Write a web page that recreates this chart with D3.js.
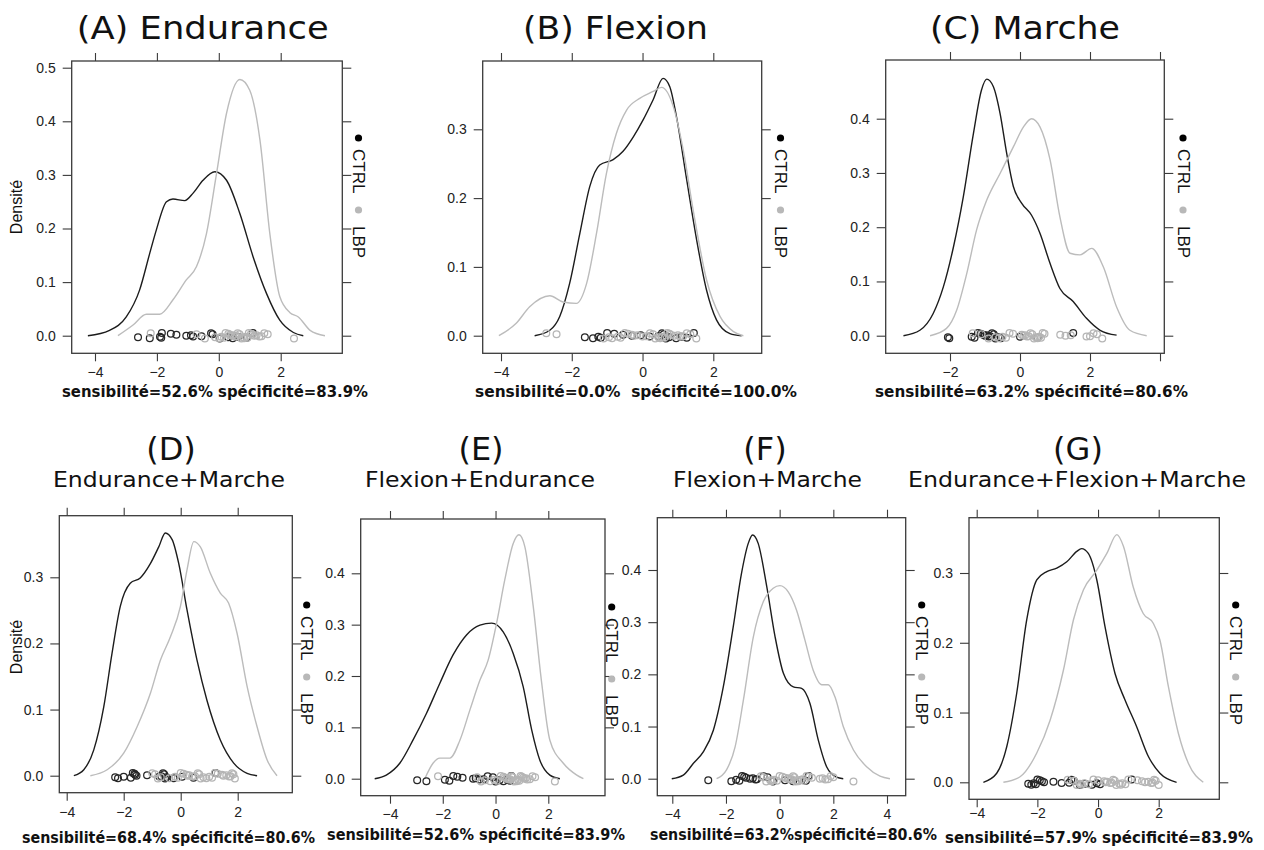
<!DOCTYPE html>
<html><head><meta charset="utf-8">
<script src="https://cdn.jsdelivr.net/npm/d3@7"></script>
<style>body{margin:0;background:#fff}svg{display:block}</style>
</head><body><svg id="c" width="1264" height="850"></svg>
<script>
// ---------- DATA ----------
const groups = ["CTRL", "LBP"];
const panelIds = ["A","B","C","D","E","F","G"];
const panelLetters = ["(A)","(B)","(C)","(D)","(E)","(F)","(G)"];
const panelNames = ["Endurance","Flexion","Marche","Endurance+Marche","Flexion+Endurance","Flexion+Marche","Endurance+Flexion+Marche"];
const sensibilite = ["52.6%","0.0%","63.2%","68.4%","52.6%","63.2%","57.9%"];
const specificite = ["83.9%","100.0%","80.6%","80.6%","83.9%","80.6%","83.9%"];
const yAxisLabel = "Densité";

const xTicksA = [-4,-2,0,2], xTicksB = [-4,-2,0,2], xTicksC = [-2,0,2,4], xTicksD = [-4,-2,0,2],
      xTicksE = [-4,-2,0,2], xTicksF = [-4,-2,0,2,4], xTicksG = [-4,-2,0,2];
const xLabelsC = [-2,0,2];
const yTicksA = [0,0.1,0.2,0.3,0.4,0.5], yTicksB = [0,0.1,0.2,0.3], yTicksC = [0,0.1,0.2,0.3,0.4],
      yTicksD = [0,0.1,0.2,0.3], yTicksE = [0,0.1,0.2,0.3,0.4], yTicksF = [0,0.1,0.2,0.3,0.4], yTicksG = [0,0.1,0.2,0.3];

// density curves [x, density]
const densCtrlA = [[-4.23,0],[-3.53,0.01],[-2.99,0.035],[-2.56,0.085],[-2.23,0.154],[-2.02,0.197],[-1.69,0.25],[-1.48,0.255],[-1.10,0.252],[-0.83,0.266],[-0.51,0.29],[-0.13,0.306],[0.25,0.29],[0.68,0.228],[1.11,0.147],[1.54,0.079],[1.97,0.029],[2.41,0.006],[2.73,0]];
const densLbpA = [[-3.26,0],[-2.77,0.02],[-2.34,0.04],[-1.91,0.04],[-1.48,0.067],[-1.05,0.104],[-0.72,0.129],[-0.40,0.19],[-0.08,0.30],[0.25,0.415],[0.68,0.478],[1.0,0.458],[1.33,0.365],[1.65,0.19],[1.97,0.073],[2.30,0.043],[2.57,0.035],[2.95,0.01],[3.43,0]];
const densCtrlB = [[-3.05,0],[-2.62,0.008],[-2.34,0.028],[-2.06,0.076],[-1.77,0.149],[-1.49,0.217],[-1.21,0.248],[-0.83,0.256],[-0.55,0.268],[-0.26,0.289],[0.02,0.314],[0.30,0.343],[0.58,0.374],[0.77,0.362],[0.96,0.318],[1.25,0.226],[1.53,0.139],[1.81,0.066],[2.09,0.023],[2.47,0.003],[2.80,0]];
const densLbpB = [[-4.06,0],[-3.57,0.018],[-3.19,0.042],[-2.62,0.058],[-2.25,0.049],[-1.87,0.047],[-1.58,0.076],[-1.30,0.149],[-1.02,0.236],[-0.74,0.294],[-0.45,0.328],[-0.08,0.345],[0.30,0.355],[0.54,0.361],[0.87,0.333],[1.15,0.27],[1.43,0.183],[1.81,0.081],[2.19,0.028],[2.57,0.006],[2.85,0]];
const densCtrlC = [[-3.33,0],[-2.86,0.010],[-2.48,0.041],[-2.19,0.09],[-1.90,0.164],[-1.62,0.256],[-1.33,0.373],[-1.10,0.453],[-0.95,0.473],[-0.76,0.459],[-0.57,0.41],[-0.38,0.336],[-0.19,0.275],[0.05,0.244],[0.33,0.222],[0.57,0.189],[0.86,0.133],[1.14,0.087],[1.52,0.063],[1.90,0.032],[2.29,0.010],[2.76,0.001]];
const densLbpC = [[-2.57,0],[-2.10,0.0135],[-1.81,0.047],[-1.52,0.115],[-1.24,0.195],[-0.95,0.25],[-0.57,0.299],[-0.19,0.348],[0.10,0.385],[0.33,0.40],[0.57,0.385],[0.86,0.324],[1.14,0.219],[1.43,0.152],[1.71,0.149],[2.05,0.161],[2.38,0.127],[2.76,0.053],[3.14,0.010],[3.62,0]];
const densCtrlD = [[-3.75,0],[-3.40,0.009],[-3.05,0.039],[-2.70,0.104],[-2.41,0.185],[-2.12,0.256],[-1.77,0.291],[-1.42,0.299],[-1.06,0.321],[-0.77,0.346],[-0.54,0.367],[-0.30,0.357],[-0.07,0.321],[0.22,0.251],[0.57,0.175],[0.92,0.114],[1.39,0.054],[1.86,0.019],[2.33,0.0035],[2.68,0]];
const densLbpD = [[-3.17,0],[-2.58,0.009],[-2.0,0.034],[-1.53,0.074],[-1.06,0.125],[-0.71,0.175],[-0.36,0.21],[-0.01,0.256],[0.22,0.311],[0.46,0.354],[0.69,0.346],[1.04,0.306],[1.39,0.276],[1.68,0.261],[1.98,0.215],[2.33,0.135],[2.68,0.074],[3.03,0.024],[3.38,0]];
const densCtrlE = [[-4.58,0],[-4.14,0.007],[-3.63,0.030],[-3.13,0.075],[-2.62,0.127],[-2.11,0.186],[-1.61,0.241],[-1.10,0.28],[-0.59,0.299],[-0.15,0.303],[0.29,0.286],[0.67,0.244],[1.05,0.179],[1.37,0.095],[1.68,0.036],[2.06,0.007],[2.44,0]];
const densLbpE = [[-2.68,0],[-2.37,0.030],[-2.11,0.040],[-1.73,0.040],[-1.35,0.075],[-0.97,0.134],[-0.59,0.192],[-0.28,0.231],[0.04,0.303],[0.35,0.387],[0.67,0.458],[0.89,0.475],[1.11,0.452],[1.43,0.335],[1.75,0.186],[2.06,0.075],[2.57,0.030],[3.08,0.007],[3.33,0]];
const densCtrlF = [[-4.02,0],[-3.59,0.007],[-3.22,0.029],[-2.84,0.052],[-2.47,0.093],[-2.10,0.176],[-1.73,0.291],[-1.42,0.394],[-1.17,0.451],[-1.01,0.467],[-0.80,0.451],[-0.48,0.368],[-0.17,0.272],[0.14,0.202],[0.51,0.176],[0.82,0.173],[1.13,0.144],[1.44,0.074],[1.75,0.023],[2.12,0.003],[2.37,0]];
const densLbpF = [[-2.35,0],[-1.98,0.017],[-1.66,0.061],[-1.35,0.151],[-0.98,0.272],[-0.61,0.339],[-0.24,0.365],[0.01,0.37],[0.32,0.358],[0.63,0.323],[0.94,0.266],[1.25,0.208],[1.57,0.18],[1.81,0.18],[2.06,0.157],[2.37,0.10],[2.75,0.055],[3.24,0.023],[3.74,0.005],[4.11,0]];
const densCtrlG = [[-3.78,0],[-3.34,0.013],[-3.01,0.051],[-2.68,0.128],[-2.35,0.233],[-2.02,0.29],[-1.69,0.302],[-1.36,0.307],[-1.03,0.316],[-0.70,0.331],[-0.54,0.335],[-0.32,0.328],[-0.04,0.29],[0.23,0.223],[0.56,0.156],[0.89,0.118],[1.27,0.08],[1.66,0.037],[2.04,0.013],[2.59,0]];
const densLbpG = [[-3.12,0],[-2.57,0.008],[-2.02,0.042],[-1.58,0.089],[-1.14,0.161],[-0.81,0.233],[-0.48,0.276],[-0.04,0.304],[0.29,0.328],[0.62,0.355],[0.84,0.338],[1.16,0.28],[1.49,0.242],[1.82,0.228],[2.04,0.204],[2.32,0.137],[2.65,0.070],[2.98,0.027],[3.47,0]];

// individual observations (rug points)
const obsCtrlA = [-2.61,-2.23,-1.9,-1.86,-1.84,-1.55,-1.37,-1.05,-0.9,-0.83,-0.56,-0.25,-0.2,0.03,0.3,0.45,0.62,0.9,1.1];
const obsLbpA = [-2.2,-0.72,-0.45,-0.12,0.02,0.08,0.17,0.22,0.31,0.36,0.42,0.47,0.53,0.58,0.61,0.67,0.73,0.78,0.82,0.88,0.93,0.97,1.04,1.08,1.15,1.22,1.31,1.38,1.47,1.58,2.43];
const obsCtrlB = [-1.63,-1.4,-1.25,-1.18,-1.0,-0.8,-0.55,-0.3,-0.05,0.2,0.45,0.55,0.6,0.66,0.75,0.95,1.1,1.25,1.45];
const obsLbpB = [-2.72,-2.43,-1.1,-0.95,-0.86,-0.7,-0.62,-0.5,-0.41,-0.3,-0.24,-0.15,0.0,0.1,0.21,0.3,0.36,0.45,0.5,0.56,0.62,0.7,0.76,0.8,0.9,1.0,1.06,1.15,1.25,1.35,1.52];
const obsCtrlC = [-2.06,-2.02,-1.38,-1.3,-1.2,-1.12,-1.05,-1.0,-0.95,-0.9,-0.85,-0.8,-0.75,-0.7,-0.62,-0.55,0.0,0.5,1.52];
const obsLbpC = [-1.35,-1.1,-0.9,-0.7,-0.6,-0.5,-0.4,-0.3,-0.2,0.05,0.1,0.15,0.2,0.25,0.3,0.35,0.4,0.45,0.5,0.55,0.6,0.65,0.7,1.15,1.3,1.45,1.9,2.0,2.1,2.2,2.35];
const obsCtrlD = [-2.3,-2.2,-2.0,-1.75,-1.68,-1.62,-1.6,-1.55,-1.18,-0.75,-0.68,-0.62,-0.58,-0.55,-0.5,-0.25,0.05,0.45,1.22];
const obsLbpD = [-1.0,-0.9,-0.8,-0.7,-0.4,-0.2,-0.1,0.0,0.1,0.2,0.25,0.3,0.4,0.5,0.6,0.65,0.7,0.8,0.9,1.0,1.1,1.2,1.3,1.45,1.5,1.6,1.7,1.75,1.8,1.85,1.9];
const obsCtrlE = [-2.97,-2.62,-1.92,-1.75,-1.6,-1.45,-1.25,-0.85,-0.75,-0.6,-0.45,-0.3,-0.1,0.0,0.15,0.3,0.45,0.55,0.6];
const obsLbpE = [-2.18,-0.7,-0.55,-0.4,-0.2,-0.05,0.05,0.2,0.3,0.35,0.4,0.45,0.5,0.55,0.6,0.65,0.7,0.75,0.8,0.85,0.9,0.95,1.0,1.05,1.1,1.15,1.2,1.3,1.4,1.5,2.25];
const obsCtrlF = [-2.66,-1.8,-1.62,-1.5,-1.4,-1.32,-1.25,-1.1,-1.0,-0.9,-0.85,-0.6,-0.45,-0.25,0.2,0.5,0.82,0.98,1.08];
const obsLbpF = [-0.7,-0.6,-0.5,-0.35,-0.3,-0.2,-0.1,0.0,0.1,0.2,0.3,0.35,0.4,0.45,0.5,0.55,0.6,0.65,0.7,0.8,0.9,1.0,1.1,1.2,1.5,1.6,1.7,1.8,1.9,2.0,2.75];
const obsCtrlG = [-2.3,-2.2,-2.12,-2.05,-2.0,-1.92,-1.85,-1.78,-1.47,-1.2,-0.95,-0.88,-0.8,-0.6,-0.43,-0.2,-0.04,0.07,1.11];
const obsLbpG = [-1.0,-0.8,-0.7,-0.6,-0.55,-0.45,-0.3,-0.15,0.0,0.2,0.25,0.3,0.4,0.45,0.5,0.55,0.6,0.7,0.75,0.8,0.9,1.0,1.3,1.45,1.55,1.65,1.75,1.8,1.85,1.9,2.0];

// ---------- LAYOUT (pixels) ----------
const layout = {
  A:{box:[71.7,342.3,61,353.3], xr:[95,280.7], xd:[-4,2], yr:[335.7,67.7], yd:[0,0.5], xt:xTicksA, yt:yTicksA, dc:densCtrlA, dl:densLbpA, oc:obsCtrlA, ol:obsLbpA, leg:[358.5,138], ylab:[16,207],
     title:{x:76.7,w:252,y:39}, foot:{x:62,w:306,y:397}, xpad:6},
  B:{box:[482.7,761.7,61,353.3], xr:[501,713.3], xd:[-4,2], yr:[335.7,129.3], yd:[0,0.3], xt:xTicksB, yt:yTicksB, dc:densCtrlB, dl:densLbpB, oc:obsCtrlB, ol:obsLbpB, leg:[780.5,138],
     title:{x:523,w:185,y:39}, foot:{x:475,w:322,y:397}, twoSpace:true, xpad:6},
  C:{box:[885.7,1164.3,60,353.3], xr:[950,1090], xd:[-2,2], yr:[335.7,118.7], yd:[0,0.4], xt:xTicksC, xl:xLabelsC, yt:yTicksC, dc:densCtrlC, dl:densLbpC, oc:obsCtrlC, ol:obsLbpC, leg:[1183,138],
     title:{x:930,w:190,y:39}, foot:{x:875,w:313,y:397}, xpad:6},
  D:{box:[59.3,292.3,515.7,792.7], xr:[66.7,237.7], xd:[-4,2], yr:[775.7,577.3], yd:[0,0.3], xt:xTicksD, yt:yTicksD, dc:densCtrlD, dl:densLbpD, oc:obsCtrlD, ol:obsLbpD, leg:[306.7,605], ylab:[16,647],
     letter:{cx:171,y:460}, sub:{x:53,w:232,y:487}, foot:{x:22,w:293,y:843}, xpad:6},
  E:{box:[360.7,605,519,795.7], xr:[390,548.3], xd:[-4,2], yr:[778.7,573.3], yd:[0,0.4], xt:xTicksE, yt:yTicksE, dc:densCtrlE, dl:densLbpE, oc:obsCtrlE, ol:obsLbpE, leg:[611.7,607],
     letter:{cx:481,y:460}, sub:{x:365,w:230,y:487}, foot:{x:327,w:298,y:840}, xpad:5},
  F:{box:[657.3,905.7,517.7,795.7], xr:[672.3,887], xd:[-4,4], yr:[778.7,570], yd:[0,0.4], xt:xTicksF, yt:yTicksF, dc:densCtrlF, dl:densLbpF, oc:obsCtrlF, ol:obsLbpF, leg:[921.7,605],
     letter:{cx:765,y:460}, sub:{x:673,w:189,y:487}, foot:{x:650,w:287,y:840}, noSpace:true, xpad:5},
  G:{box:[969,1219.3,517.7,799.3], xr:[976.7,1158.7], xd:[-4,2], yr:[782.3,573], yd:[0,0.3], xt:xTicksG, yt:yTicksG, dc:densCtrlG, dl:densLbpG, oc:obsCtrlG, ol:obsLbpG, leg:[1235.7,605],
     letter:{cx:1078,y:460}, sub:{x:908,w:338,y:487}, foot:{x:945,w:308,y:843}, xpad:1}
};
const colCtrl = "#1c1c1c", colLbp = "#bcbcbc", colAxis = "#3a3a3a";
const jitterPx = [1.5,-2,0.5,2.5,-1,-2.5,1,0,-1.5,2,-0.5,2.8,-2.8,0.8];
const tickFont = "'Liberation Sans', Arial, sans-serif";
const titleFont = "'DejaVu Sans', Verdana, sans-serif";

const svg = d3.select("#c");
const fmtX = d3.format("d"), fmtY = d3.format(".1f");

panelIds.forEach((id, i) => {
  const p = layout[id];
  const g = svg.append("g");
  const [L,R,T,B] = p.box;
  const x = d3.scaleLinear().domain(p.xd).range(p.xr);
  const y = d3.scaleLinear().domain(p.yd).range(p.yr);

  // axes
  const styleAxis = sel => {
    sel.select(".domain").remove();
    sel.selectAll("line").attr("stroke", colAxis).attr("stroke-width", 1.1);
    sel.selectAll("text").attr("fill", "#222").style("font-family", tickFont).style("font-size", "14px");
  };
  const labeled = p.xl || p.xt;
  g.append("g").attr("transform", `translate(0,${B})`)
    .call(d3.axisBottom(x).tickValues(p.xt).tickSize(8).tickPadding(p.xpad).tickFormat(d => labeled.includes(d) ? fmtX(d) : ""))
    .call(styleAxis);
  g.append("g").attr("transform", `translate(0,${T})`)
    .call(d3.axisTop(x).tickValues(p.xt).tickSize(8).tickFormat(""))
    .call(styleAxis);
  g.append("g").attr("transform", `translate(${L},0)`)
    .call(d3.axisLeft(y).tickValues(p.yt).tickSize(9).tickPadding(7).tickFormat(fmtY))
    .call(styleAxis);
  g.append("g").attr("transform", `translate(${R},0)`)
    .call(d3.axisRight(y).tickValues(p.yt).tickSize(9).tickFormat(""))
    .call(styleAxis);

  // curves
  const line = d3.line().x(d => x(d[0])).y(d => y(d[1])).curve(d3.curveMonotoneX);
  [[p.dc, colCtrl, 1.4], [p.dl, colLbp, 1.4]].forEach(([d, c, w]) => {
    g.append("path").datum(d).attr("d", line).attr("fill", "none").attr("stroke", c).attr("stroke-width", w);
  });

  // rug points
  [[p.oc, "#262626"], [p.ol, "#b5b5b5"]].forEach(([obs, c], k) => {
    g.append("g").selectAll("circle").data(obs).join("circle")
      .attr("cx", d => x(d))
      .attr("cy", (d, j) => y(0) + jitterPx[(j * 3 + k * 5) % jitterPx.length])
      .attr("r", 3.4).attr("fill", "none").attr("stroke", c).attr("stroke-width", 1.25);
  });

  // box
  g.append("rect").attr("x", L).attr("y", T).attr("width", R - L).attr("height", B - T)
    .attr("fill", "none").attr("stroke", colAxis).attr("stroke-width", 1.3);

  // legend (rotated key on the right)
  const [lx, ly] = p.leg;
  g.append("circle").attr("cx", lx).attr("cy", ly).attr("r", 3.6).attr("fill", "#000");
  g.append("text").attr("transform", `translate(${lx},${ly + 11}) rotate(90)`)
    .attr("dominant-baseline", "central").style("font-family", tickFont).style("font-size", "17px").attr("fill", "#111")
    .text(groups[0]);
  g.append("circle").attr("cx", lx).attr("cy", ly + 72).attr("r", 3.6).attr("fill", "#b8b8b8");
  g.append("text").attr("transform", `translate(${lx},${ly + 88}) rotate(90)`)
    .attr("dominant-baseline", "central").style("font-family", tickFont).style("font-size", "17px").attr("fill", "#111")
    .text(groups[1]);

  // y label
  if (p.ylab) {
    g.append("text").attr("transform", `translate(${p.ylab[0]},${p.ylab[1]}) rotate(-90)`)
      .attr("text-anchor", "middle").attr("dominant-baseline", "central")
      .style("font-family", tickFont).style("font-size", "16px").attr("fill", "#111").text(yAxisLabel);
  }

  // titles
  if (p.title) {
    g.append("text").attr("x", p.title.x).attr("y", p.title.y)
      .attr("textLength", p.title.w).attr("lengthAdjust", "spacingAndGlyphs")
      .style("font-family", titleFont).style("font-size", "32px").attr("fill", "#111")
      .text(panelLetters[i] + " " + panelNames[i]);
  } else {
    g.append("text").attr("x", p.letter.cx).attr("y", p.letter.y).attr("text-anchor", "middle")
      .style("font-family", titleFont).style("font-size", "32px").attr("fill", "#111").text(panelLetters[i]);
    g.append("text").attr("x", p.sub.x).attr("y", p.sub.y)
      .attr("textLength", p.sub.w).attr("lengthAdjust", "spacingAndGlyphs")
      .style("font-family", titleFont).style("font-size", "22px").attr("fill", "#111").text(panelNames[i]);
  }

  // footer
  const sep = p.noSpace ? "" : (p.twoSpace ? "\u00a0\u00a0" : " ");
  g.append("text").attr("x", p.foot.x).attr("y", p.foot.y)
    .attr("textLength", p.foot.w).attr("lengthAdjust", "spacingAndGlyphs")
    .style("font-family", titleFont).style("font-size", "15px").style("font-weight", "bold").attr("fill", "#111")
    .text("sensibilité=" + sensibilite[i] + sep + "spécificité=" + specificite[i]);
});
</script></body></html>
